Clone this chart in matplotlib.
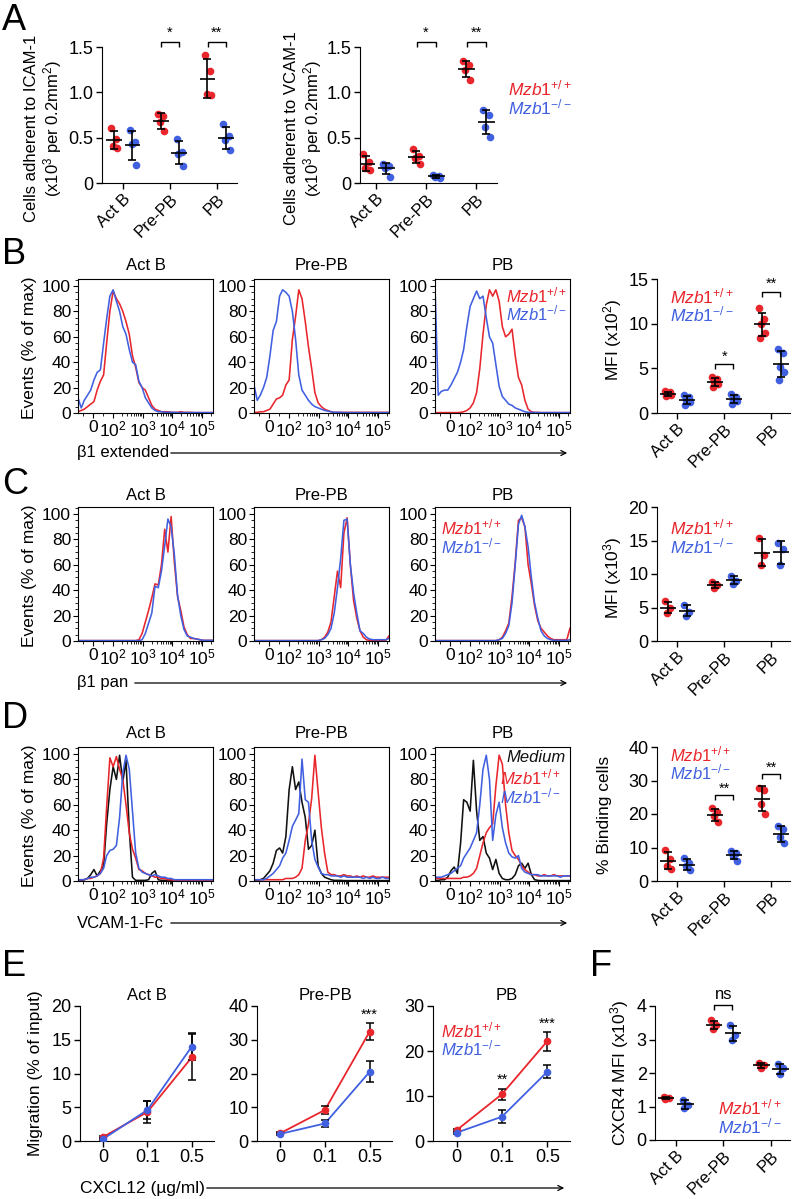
import numpy as np
import matplotlib
matplotlib.use('Agg')
import matplotlib.pyplot as plt
from matplotlib.ticker import MultipleLocator, FixedLocator
from matplotlib.patches import FancyArrowPatch

plt.rcParams['font.family'] = ['Liberation Sans', 'DejaVu Sans']
plt.rcParams['mathtext.fontset'] = 'custom'
plt.rcParams['mathtext.rm'] = 'Liberation Sans'
plt.rcParams['mathtext.it'] = 'Liberation Sans:italic'
plt.rcParams['mathtext.bf'] = 'Liberation Sans:bold'

RED = '#E8262C'
BLUE = '#4060E0'
BLACK = '#111111'

# ---------------- data ----------------
CATS = ['Act B', 'Pre-PB', 'PB']
WT = r'$\mathit{Mzb1}^{\mathit{+/+}}$'
KO = r'$\mathit{Mzb1}^{\mathit{-/-}}$'

# A: adhesion (x10^3 per 0.2 mm^2)
A_ICAM_WT = [[0.61, 0.49, 0.41, 0.39], [0.76, 0.74, 0.67, 0.57], [1.41, 1.24, 0.98, 0.97]]
A_ICAM_KO = [[0.59, 0.45, 0.43, 0.20], [0.49, 0.34, 0.32, 0.19], [0.65, 0.52, 0.47, 0.36]]
A_VCAM_WT = [[0.32, 0.23, 0.16, 0.14], [0.37, 0.30, 0.28, 0.21], [1.35, 1.30, 1.25, 1.14]]
A_VCAM_KO = [[0.21, 0.19, 0.17, 0.07], [0.09, 0.08, 0.07, 0.05], [0.80, 0.75, 0.62, 0.51]]

# B/C/D/F scatter
B_MFI_WT = [[2.5, 2.3, 2.1, 2.0, 1.9], [4.0, 3.8, 3.5, 3.2, 2.9], [11.7, 10.5, 10.0, 9.0, 8.4]]
B_MFI_KO = [[2.0, 1.8, 1.4, 1.2, 0.9], [2.1, 1.8, 1.5, 1.3, 1.0], [7.2, 6.7, 5.2, 4.6, 3.7]]
C_MFI_WT = [[5.9, 4.9, 4.2], [8.8, 8.4, 7.9], [15.3, 12.9, 11.4]]
C_MFI_KO = [[5.4, 4.4, 3.8], [9.7, 9.0, 8.5], [14.7, 13.7, 11.3]]
D_BIND_WT = [[9.2, 6.7, 4.6, 3.5], [21.7, 20.5, 19.3, 17.6], [27.8, 27.3, 23.0, 20.0]]
D_BIND_KO = [[6.8, 5.3, 4.4, 3.2], [8.9, 8.3, 7.5, 6.0], [16.5, 15.5, 13.0, 11.2]]
F_CXCR4_WT = [[1.27, 1.24, 1.21], [3.57, 3.43, 3.32], [2.30, 2.25, 2.14]]
F_CXCR4_KO = [[1.20, 1.03, 0.96], [3.42, 3.13, 2.99], [2.27, 2.15, 1.97]]

# E: migration (% of input)
CXCL12 = ['0', '0.1', '0.5']
E_ACTB_WT = [0.6, 4.3, 12.4];  E_ACTB_WT_ERR = [0.2, 1.7, 3.4]
E_ACTB_KO = [0.3, 4.6, 14.0];  E_ACTB_KO_ERR = [0.2, 1.4, 2.0]
E_PREPB_WT = [2.3, 9.2, 32.4]; E_PREPB_WT_ERR = [0.3, 1.3, 2.5]
E_PREPB_KO = [2.1, 5.2, 20.5]; E_PREPB_KO_ERR = [0.3, 1.0, 3.1]
E_PB_WT = [2.4, 10.4, 22.2];   E_PB_WT_ERR = [0.3, 1.2, 2.1]
E_PB_KO = [1.85, 5.4, 15.4];   E_PB_KO_ERR = [0.3, 1.4, 1.4]

# Histogram fluorescence bins (biexponential-like display)
FLUOR = [-73, -57, -42, -26, -10, 6, 22, 38, 54, 69,
         85, 102, 131, 168, 215, 276, 355, 455, 583, 748,
         961, 1233, 1582, 2029, 2604, 3341, 4287, 5500, 7058, 9057,
         11620, 14900, 19130, 24550, 31500, 40400, 51860, 66540, 85380, 109600,
         140600, 180300, 231300]

# B: beta1 extended
B_ACTB_WT = [1, 2, 3, 5, 7, 9, 18, 25, 30, 55,
             80, 96, 90, 86, 80, 72, 62, 45, 36, 24,
             20, 18, 12, 6, 3, 2, 1, 1, 1, 0.5,
             0.5, 0.5, 1, 0.5, 0.5, 0.5, 0.3, 0.3, 0.3, 0.3,
             0.3, 0.3, 0.3]
B_ACTB_KO = [12, 4, 10, 14, 18, 26, 32, 34, 55, 74,
             92, 97, 88, 80, 68, 62, 50, 40, 38, 25,
             20, 12, 8, 4, 2, 1, 1, 0.5, 0.5, 0.5,
             0.5, 0.3, 0.3, 0.3, 0.3, 0.3, 0.3, 0.3, 0.3, 0.3,
             0.3, 0.3, 0.3]
B_PREPB_WT = [0.5, 0.5, 1, 1, 2, 3, 7, 11, 12, 14,
              22, 26, 58, 76, 97, 90, 72, 52, 35, 16,
              8, 5, 3, 2, 1, 0.5, 0.5, 0.5, 0.5, 0.5,
              0.5, 0.5, 0.5, 0.5, 0.5, 0.5, 0.5, 0.5, 0.5, 0.5,
              0.5, 0.5, 0.5]
B_PREPB_KO = [22, 10, 14, 20, 28, 45, 65, 72, 92, 97,
              95, 92, 80, 58, 30, 18, 14, 10, 7, 5,
              4, 3, 2, 1.5, 1, 0.5, 0.5, 0.5, 0.3, 0.3,
              0.3, 0.3, 0.3, 0.3, 0.3, 0.3, 0.3, 0.3, 0.3, 0.3,
              0.3, 0.3, 0.3]
B_PB_WT = [0.3, 0.3, 0.3, 0.3, 0.3, 0.3, 0.3, 0.3, 0.5, 1,
           2, 4, 8, 16, 35, 62, 85, 97, 92, 97,
           88, 68, 60, 62, 66, 45, 28, 22, 10, 3,
           1, 0.5, 0.5, 0.3, 0.3, 0.3, 0.3, 0.3, 0.3, 0.3,
           0.3, 0.3, 0.3]
B_PB_KO = [100, 14, 17, 18, 18, 22, 27, 32, 40, 50,
           68, 84, 90, 96, 90, 92, 75, 60, 55, 38,
           21, 13, 10, 7, 6, 4, 3, 2, 1, 0.5,
           0.5, 0.3, 0.3, 0.3, 0.3, 0.3, 0.3, 0.3, 0.3, 0.3,
           0.3, 0.3, 0.3]

# C: beta1 pan
C_ACTB_WT = [0.3, 0.3, 0.3, 0.3, 0.3, 0.3, 0.3, 0.3, 0.3, 0.3,
             0.3, 0.3, 0.3, 0.3, 0.3, 0.3, 0.3, 0.3, 0.3, 1,
             6, 15, 24, 34, 45, 44, 60, 88, 70, 98,
             62, 35, 24, 11, 5, 2, 2, 1.5, 1, 0.5,
             0.5, 0.5, 0.5]
C_ACTB_KO = [0.3, 0.3, 0.3, 0.3, 0.3, 0.3, 0.3, 0.3, 0.3, 0.3,
             0.3, 0.3, 0.3, 0.3, 0.3, 0.3, 0.3, 0.3, 0.3, 0.3,
             1, 6, 14, 22, 43, 42, 55, 75, 96, 90,
             68, 36, 20, 9, 4, 3, 2, 1.5, 1, 0.5,
             0.5, 0.5, 0.5]
C_PREPB_WT = [0.3, 0.3, 0.3, 0.3, 0.3, 0.3, 0.3, 0.3, 0.3, 0.3,
              0.3, 0.3, 0.3, 0.3, 0.3, 0.3, 0.3, 0.3, 0.3, 0.3,
              0.3, 1, 3, 7, 15, 35, 55, 42, 85, 97,
              60, 32, 18, 8, 3, 1, 0.5, 0.5, 0.5, 0.5,
              0.5, 0.5, 4]
C_PREPB_KO = [0.3, 0.3, 0.3, 0.3, 0.3, 0.3, 0.3, 0.3, 0.3, 0.3,
              0.3, 0.3, 0.3, 0.3, 0.3, 0.3, 0.3, 0.3, 0.3, 0.3,
              0.3, 1, 2, 5, 10, 22, 42, 65, 95, 96,
              60, 38, 22, 8, 6, 3, 1.5, 1, 1, 1,
              1, 1, 2]
C_PB_WT = [0.3, 0.3, 0.3, 0.3, 0.3, 0.3, 0.3, 0.3, 0.3, 0.3,
           0.3, 0.3, 0.3, 0.3, 0.3, 0.3, 0.3, 0.3, 0.3, 0.3,
           1, 3, 8, 14, 35, 62, 95, 97, 90, 60,
           45, 28, 16, 10, 7, 4, 2, 1, 1, 1,
           1, 1, 10]
C_PB_KO = [0.3, 0.3, 0.3, 0.3, 0.3, 0.3, 0.3, 0.3, 0.3, 0.3,
           0.3, 0.3, 0.3, 0.3, 0.3, 0.3, 0.3, 0.3, 0.3, 0.3,
           1, 2, 6, 12, 30, 60, 92, 99, 90, 74,
           50, 30, 18, 8, 4, 2, 1, 0.5, 0.5, 0.5,
           0.5, 0.5, 1]

# D: VCAM-1-Fc binding
D_ACTB_MED = [0.5, 0.5, 1, 2, 5, 9, 4, 8, 12, 45,
              72, 90, 80, 99, 78, 95, 40, 3, 0.5, 0.5,
              0.5, 0.5, 1, 6, 8, 1, 0.5, 0.5, 0.5, 0.3,
              0.3, 0.3, 0.3, 0.3, 0.3, 0.3, 0.3, 0.3, 0.3, 0.3,
              0.3, 0.3, 0.3]
D_ACTB_WT = [1, 1, 1, 2, 2, 3, 4, 6, 18, 58,
             97, 90, 98, 88, 80, 60, 38, 25, 18, 9,
             8, 6, 5, 4, 3, 3, 2, 2, 1, 1,
             0.5, 0.5, 0.5, 0.5, 0.5, 0.5, 0.5, 0.5, 0.5, 0.5,
             0.5, 0.5, 0.5]
D_ACTB_KO = [0.5, 1, 1, 2, 3, 3, 4, 6, 10, 20,
             24, 25, 28, 50, 85, 99, 88, 55, 22, 10,
             7, 6, 5, 4, 5, 4, 3, 3, 2, 2,
             1, 1, 1, 1, 1, 1, 1, 1, 1, 1,
             1, 1, 1]
D_PREPB_MED = [0.5, 0.5, 1, 2, 5, 8, 14, 24, 26, 22,
               35, 72, 90, 72, 78, 62, 50, 25, 28, 40,
               12, 6, 3, 2, 1, 0.5, 0.5, 0.5, 0.3, 0.3,
               0.3, 0.3, 0.3, 0.3, 0.3, 0.3, 0.3, 0.3, 0.3, 0.3,
               0.3, 0.3, 0.3]
D_PREPB_WT = [1, 1, 1, 1, 1, 1, 1, 1, 1, 1,
              2, 2, 2, 3, 5, 10, 32, 45, 65, 99,
              70, 42, 22, 7, 5, 5, 4, 4, 5, 4,
              4, 3, 4, 3, 4, 3, 3, 4, 3, 3,
              3, 3, 3]
D_PREPB_KO = [1, 1, 1, 1, 2, 4, 6, 9, 12, 18,
              22, 32, 43, 48, 53, 96, 64, 62, 32, 17,
              11, 6, 5, 5, 4, 4, 4, 3, 4, 3,
              3, 3, 3, 3, 2, 3, 2, 3, 2, 2,
              3, 2, 2]
D_PB_MED = [0.5, 0.5, 1, 1, 3, 8, 11, 6, 30, 64,
            62, 55, 95, 55, 32, 35, 22, 18, 9, 17,
            6, 2, 1, 1, 2, 5, 12, 14, 10, 14,
            5, 1, 0.5, 0.3, 0.3, 0.3, 0.3, 0.3, 0.3, 0.3,
            0.3, 0.3, 0.3]
D_PB_WT = [2, 2, 2, 2, 2, 2, 2, 2, 2, 3,
           3, 4, 6, 10, 20, 30, 38, 42, 45, 75,
           99, 92, 60, 38, 24, 20, 17, 12, 9, 7,
           5, 5, 4, 4, 5, 4, 4, 5, 4, 4,
           4, 4, 4]
D_PB_KO = [3, 3, 3, 4, 5, 6, 8, 10, 12, 18,
           22, 26, 32, 38, 60, 88, 99, 80, 32, 52,
           62, 42, 30, 22, 19, 18, 20, 10, 7, 6,
           5, 5, 5, 4, 4, 4, 4, 4, 4, 3,
           4, 4, 4]

HIST_TICKS = [0, 100, 1000, 10000, 100000]
HIST_TICKLABELS = ['0', r'$10^2$', r'$10^3$', r'$10^4$', r'$10^5$']

# ---------------- figure helpers ----------------
W, H = 793, 1199
fig = plt.figure(figsize=(W / 100, H / 100), dpi=100)


def px_axes(x0, y0, x1, y1):
    return fig.add_axes([x0 / W, 1 - y1 / H, (x1 - x0) / W, (y1 - y0) / H])


def ftext(x, y, s, **kw):
    kw.setdefault('va', 'center')
    return fig.text(x / W, 1 - y / H, s, **kw)


def farrow(x0, x1, y):
    fig.add_artist(FancyArrowPatch((x0 / W, 1 - y / H), (x1 / W, 1 - y / H),
                                   transform=fig.transFigure, arrowstyle='->',
                                   mutation_scale=9, lw=0.9, color='k'))


def bracket(ax, xc, y_top, y_leg, label, label_y, fs=10.5):
    x1, x2 = xc - 0.19, xc + 0.19
    ax.plot([x1, x1, x2, x2], [y_leg, y_top, y_top, y_leg], color='k', lw=1.0,
            clip_on=False, solid_capstyle='butt')
    ax.text(xc, label_y, label, ha='center', va='center', fontsize=fs, clip_on=False)


JIT = [-0.06, 0.05, -0.02, 0.07, -0.04]


def scatter_panel(ax, wt, ko, ylim, yticks, yticklabels, xlim):
    for groups, off, col in ((wt, -0.2, RED), (ko, 0.2, BLUE)):
        for i, g in enumerate(groups):
            xc = i + off
            xs = [xc + JIT[j % len(JIT)] for j in range(len(g))]
            ax.plot(xs, g, 'o', color=col, ms=5.5, mec='none', zorder=2, clip_on=False)
            m = np.mean(g)
            sd = np.std(g, ddof=1)
            ax.hlines(m, xc - 0.17, xc + 0.17, color='k', lw=1.2, zorder=3)
            ax.errorbar(xc, m, yerr=sd, fmt='none', ecolor='k', elinewidth=1.2,
                        capsize=3, capthick=1.2, zorder=3)
    ax.set_xlim(*xlim)
    ax.set_ylim(*ylim)
    ax.set_xticks([0, 1, 2])
    ax.set_xticklabels(CATS, rotation=45, ha='right', rotation_mode='anchor', fontsize=12)
    ax.set_yticks(yticks)
    ax.set_yticklabels(yticklabels, fontsize=13)
    for s in ('top', 'right'):
        ax.spines[s].set_visible(False)
    ax.tick_params(direction='out', length=4, width=1, pad=2)


MINOR = [-50, 50] + [m * 10 ** e for e in (2, 3, 4) for m in range(2, 10)] + [200000]


def hist_panel(ax, curves):
    for vals, col in curves:
        ax.plot(FLUOR, vals, color=col, lw=1.15)
    ax.set_xscale('symlog', linthresh=100, linscale=0.61, base=10)
    ax.set_xlim(FLUOR[0], FLUOR[-1])
    ax.set_ylim(0, 105.5)
    ax.set_xticks(HIST_TICKS)
    ax.set_xticklabels(HIST_TICKLABELS, fontsize=12.5)
    ax.xaxis.set_minor_locator(FixedLocator(MINOR))
    ax.set_yticks([0, 20, 40, 60, 80, 100])
    ax.set_yticklabels(['0', '20', '40', '60', '80', '100'], fontsize=12.5)
    ax.yaxis.set_minor_locator(MultipleLocator(5))
    ax.tick_params(which='major', direction='out', length=3.5, width=0.8, pad=1.5)
    ax.tick_params(which='minor', direction='out', length=2, width=0.6)
    for s in ax.spines.values():
        s.set_linewidth(0.8)


def line_panel(ax, wt, wte, ko, koe, ylim, yticks):
    x = [0, 1, 2]
    ax.plot(x, wt, '-', color=RED, lw=1.3, zorder=2)
    ax.plot(x, ko, '-', color=BLUE, lw=1.3, zorder=2)
    ax.errorbar(x, wt, yerr=wte, fmt='none', ecolor='k', elinewidth=1.1, capsize=3, capthick=1.1, zorder=3)
    ax.errorbar(x, ko, yerr=koe, fmt='none', ecolor='k', elinewidth=1.1, capsize=3, capthick=1.1, zorder=3)
    ax.plot(x, wt, 'o', color=RED, ms=5.5, mec='none', zorder=4)
    ax.plot(x, ko, 'o', color=BLUE, ms=5.5, mec='none', zorder=4)
    ax.set_xlim(-0.52, 2.5)
    ax.set_ylim(*ylim)
    ax.set_xticks(x)
    ax.set_xticklabels(CXCL12, fontsize=13)
    ax.set_yticks(yticks)
    ax.set_yticklabels([str(t) for t in yticks], fontsize=13)
    for s in ('top', 'right'):
        ax.spines[s].set_visible(False)
    ax.tick_params(direction='out', length=4, width=1, pad=2)


LETTER_FS = 26
LEG_FS = 12.5
HLEG_FS = 12

# ---------------- Panel A ----------------
ftext(2, 20, 'A', fontsize=LETTER_FS, ha='left')
axA1 = px_axes(102, 47, 237, 183)
scatter_panel(axA1, A_ICAM_WT, A_ICAM_KO, (0, 1.5), [0, 0.5, 1.0, 1.5], ['0', '0.5', '1.0', '1.5'],
              (-0.45, 2.43))
bracket(axA1, 1, 1.557, 1.5, '*', 1.66)
bracket(axA1, 2, 1.557, 1.5, '**', 1.66)
ftext(44, 128, 'Cells adherent to ICAM-1\n(x10$^3$ per 0.2mm$^2$)', rotation=90, ha='center',
      fontsize=12, linespacing=1.1)

axA2 = px_axes(360, 47, 497, 183)
scatter_panel(axA2, A_VCAM_WT, A_VCAM_KO, (0, 1.5), [0, 0.5, 1.0, 1.5], ['0', '0.5', '1.0', '1.5'],
              (-0.32, 2.42))
bracket(axA2, 1, 1.557, 1.5, '*', 1.66)
bracket(axA2, 2, 1.557, 1.5, '**', 1.66)
ftext(304, 128, 'Cells adherent to VCAM-1\n(x10$^3$ per 0.2mm$^2$)', rotation=90, ha='center',
      fontsize=12, linespacing=1.1)
ftext(508, 88, WT, color=RED, fontsize=LEG_FS, ha='left')
ftext(508, 107, KO, color=BLUE, fontsize=LEG_FS, ha='left')

# ---------------- histogram rows B, C, D ----------------
HBOX_X = [(78, 213), (254, 389), (435, 570)]


def hist_row(top, curves_list, title_y, label_y, xlabel, xlabel_y, arrow_start):
    axes = []
    for (x0, x1), curves, t in zip(HBOX_X, curves_list, CATS):
        ax = px_axes(x0, top, x1, top + 134)
        hist_panel(ax, curves)
        ftext((x0 + x1) / 2, title_y, t, ha='center', fontsize=12)
        axes.append(ax)
    ftext(30, label_y, 'Events (% of max)', rotation=90, ha='center', fontsize=12.5)
    ftext(77, xlabel_y, xlabel, ha='left', fontsize=12)
    farrow(arrow_start, 570, xlabel_y)
    return axes


# B
ftext(2, 255, 'B', fontsize=LETTER_FS, ha='left')
hist_row(279, [[(B_ACTB_WT, RED), (B_ACTB_KO, BLUE)],
               [(B_PREPB_WT, RED), (B_PREPB_KO, BLUE)],
               [(B_PB_WT, RED), (B_PB_KO, BLUE)]],
         265, 348, '\u03b21 extended', 453, 168)
ftext(506, 295, WT, color=RED, fontsize=HLEG_FS, ha='left')
ftext(506, 313, KO, color=BLUE, fontsize=HLEG_FS, ha='left')

axB = px_axes(657, 279, 790, 413)
scatter_panel(axB, B_MFI_WT, B_MFI_KO, (0, 15), [0, 5, 10, 15], ['0', '5', '10', '15'], (-0.43, 2.4))
bracket(axB, 1, 5.47, 4.87, '*', 6.3)
bracket(axB, 2, 13.5, 12.97, '**', 14.47)
ftext(613, 340, 'MFI (x10$^2$)', rotation=90, ha='center', fontsize=12.5)
ftext(670, 296, WT, color=RED, fontsize=LEG_FS, ha='left')
ftext(670, 314, KO, color=BLUE, fontsize=LEG_FS, ha='left')

# C
ftext(2, 484, 'C', fontsize=LETTER_FS, ha='left')
hist_row(507, [[(C_ACTB_WT, RED), (C_ACTB_KO, BLUE)],
               [(C_PREPB_WT, RED), (C_PREPB_KO, BLUE)],
               [(C_PB_WT, RED), (C_PB_KO, BLUE)]],
         495, 576, '\u03b21 pan', 683, 132)
ftext(441, 527, WT, color=RED, fontsize=HLEG_FS, ha='left')
ftext(441, 546, KO, color=BLUE, fontsize=HLEG_FS, ha='left')

axC = px_axes(657, 507, 790, 641)
scatter_panel(axC, C_MFI_WT, C_MFI_KO, (0, 20), [0, 5, 10, 15, 20], ['0', '5', '10', '15', '20'],
              (-0.43, 2.4))
ftext(613, 578, 'MFI (x10$^3$)', rotation=90, ha='center', fontsize=12.5)
ftext(670, 527, WT, color=RED, fontsize=LEG_FS, ha='left')
ftext(670, 546, KO, color=BLUE, fontsize=LEG_FS, ha='left')

# D
ftext(2, 718, 'D', fontsize=LETTER_FS, ha='left')
hist_row(747, [[(D_ACTB_MED, BLACK), (D_ACTB_WT, RED), (D_ACTB_KO, BLUE)],
               [(D_PREPB_MED, BLACK), (D_PREPB_WT, RED), (D_PREPB_KO, BLUE)],
               [(D_PB_MED, BLACK), (D_PB_WT, RED), (D_PB_KO, BLUE)]],
         733, 816, 'VCAM-1-Fc', 923, 168)
ftext(506, 758, 'Medium', color=BLACK, fontsize=HLEG_FS, ha='left', style='italic')
ftext(500, 777, WT, color=RED, fontsize=HLEG_FS, ha='left')
ftext(500, 796, KO, color=BLUE, fontsize=HLEG_FS, ha='left')

axD = px_axes(657, 747, 790, 881)
scatter_panel(axD, D_BIND_WT, D_BIND_KO, (0, 40), [0, 10, 20, 30, 40], ['0', '10', '20', '30', '40'],
              (-0.43, 2.4))
bracket(axD, 1, 25.7, 24.2, '**', 27.4)
bracket(axD, 2, 31.9, 30.4, '**', 33.7)
ftext(605, 815, '% Binding cells', rotation=90, ha='center', fontsize=12.5)
ftext(670, 754, WT, color=RED, fontsize=12, ha='left')
ftext(670, 772, KO, color=BLUE, fontsize=12, ha='left')

# ---------------- Panel E ----------------
ftext(2, 967, 'E', fontsize=LETTER_FS, ha='left')
axE1 = px_axes(80, 1006, 214, 1141)
line_panel(axE1, E_ACTB_WT, E_ACTB_WT_ERR, E_ACTB_KO, E_ACTB_KO_ERR, (0, 20), [0, 5, 10, 15, 20])
axE2 = px_axes(257, 1006, 392, 1141)
line_panel(axE2, E_PREPB_WT, E_PREPB_WT_ERR, E_PREPB_KO, E_PREPB_KO_ERR, (0, 40), [0, 10, 20, 30, 40])
axE2.text(2, 37.3, '***', ha='center', va='center', fontsize=10.5)
axE3 = px_axes(433, 1006, 570, 1141)
line_panel(axE3, E_PB_WT, E_PB_WT_ERR, E_PB_KO, E_PB_KO_ERR, (0, 30), [0, 10, 20, 30])
axE3.text(1, 13.6, '**', ha='center', va='center', fontsize=10.5)
axE3.text(2, 26.1, '***', ha='center', va='center', fontsize=10.5)
for cx, t in zip([147, 325, 507], CATS):
    ftext(cx, 996, t, ha='center', fontsize=12)
ftext(441, 1030, WT, color=RED, fontsize=HLEG_FS, ha='left')
ftext(441, 1048, KO, color=BLUE, fontsize=HLEG_FS, ha='left')
ftext(36, 1073, 'Migration (% of input)', rotation=90, ha='center', fontsize=12.5)
ftext(80, 1188, 'CXCL12 (\u00b5g/ml)', ha='left', fontsize=12.5)
farrow(204, 567, 1188)

# ---------------- Panel F ----------------
ftext(590, 967, 'F', fontsize=LETTER_FS, ha='left')
axF = px_axes(655, 1006, 790, 1140)
scatter_panel(axF, F_CXCR4_WT, F_CXCR4_KO, (0, 4), [0, 1, 2, 3, 4], ['0', '1', '2', '3', '4'],
              (-0.44, 2.4))
bracket(axF, 1, 4.02, 3.88, 'ns', 4.33, fs=12)
ftext(620, 1073, 'CXCR4 MFI (x10$^3$)', rotation=90, ha='center', fontsize=12.5)
ftext(718, 1107, WT, color=RED, fontsize=LEG_FS, ha='left')
ftext(718, 1126, KO, color=BLUE, fontsize=LEG_FS, ha='left')

fig.savefig('out.png', dpi=100)
